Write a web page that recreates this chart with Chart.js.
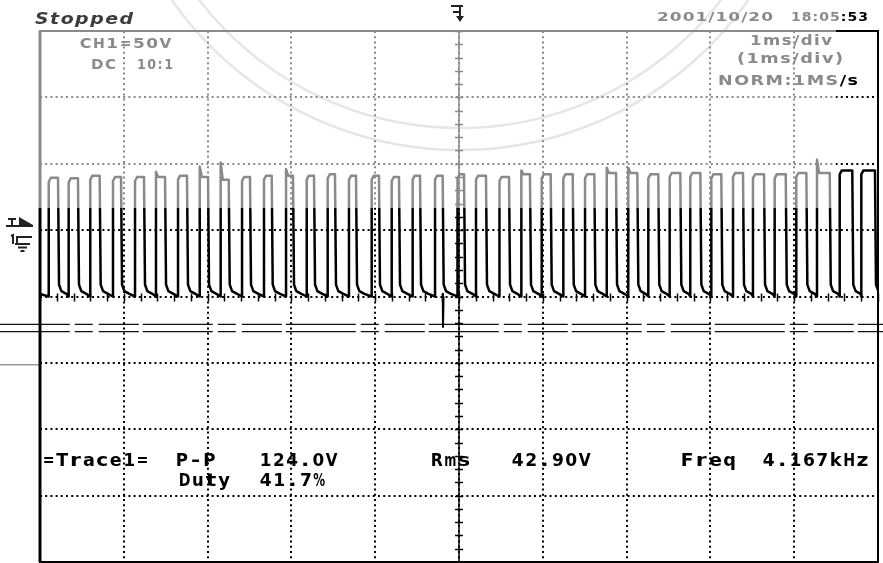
<!DOCTYPE html>
<html>
<head>
<meta charset="utf-8">
<script src="https://cdn.jsdelivr.net/npm/chart.js@4"></script>
<style>
  html, body { margin: 0; padding: 0; background: #fff; }
  canvas { display: block; }
</style>
</head>
<body>
<canvas id="scope" width="883" height="563"></canvas>
<script>
// pulse edges, in ms (1 ms/div, 10 div)
const riseMs = [0.104, 0.342, 0.600, 0.871, 1.134, 1.384, 1.647, 1.906, 2.156, 2.411,
  2.673, 2.936, 3.183, 3.433, 3.687, 3.958, 4.197, 4.447, 4.714, 4.982,
  5.203, 5.483, 5.744, 5.987, 6.245, 6.504, 6.763, 7.020, 7.259, 7.514,
  7.760, 8.011, 8.270, 8.508, 8.767, 9.025, 9.272, 9.543, 9.801];
const fallMs = [0.215, 0.453, 0.712, 0.967, 1.241, 1.492, 1.754, 2.005, 2.252, 2.506,
  2.765, 3.019, 3.270, 3.520, 3.771, 4.045, 4.284, 4.535, 4.805, 5.060,
  5.322, 5.597, 5.847, 6.094, 6.357, 6.615, 6.874, 7.128, 7.378, 7.641,
  7.880, 8.130, 8.389, 8.640, 8.899, 9.145, 9.424, 9.693, 9.964];
// flat top level and leading-edge corner of each pulse, volts (50 V/div)
const highV = [89.5, 89, 91, 90, 90, 90, 91, 90, 88, 90,
  91, 91, 91, 92, 91, 91, 90, 91, 91, 92,
  91, 90, 92, 92, 92, 92, 93, 93, 92, 93,
  93, 92, 93, 92, 92, 93, 93, 95, 95];
const edgeV = [86, 86, 88, 87, 87, 94, 88, 98, 101, 87,
  88, 96, 88, 89, 88, 88, 87, 88, 88, 89,
  88, 87, 95, 89, 89, 89, 97, 97, 89, 90,
  90, 89, 90, 89, 89, 90, 103, 92, 92];
// knee after each falling edge (ms after the edge, volts)
const kneeMs = [0.012, 0.04, 0.1];
const kneeV = [9, 4, 2];
// undershoot glitch near 4.8 ms
const glitchMs = [4.806, 4.809, 4.816];
const glitchV = [2, -23, 0];
// stray scan lines crossing the sheet (ms span, volts)
const scanSpanMs = [-0.48, 10.06];
const scanV = [-21, -26.5];
const stubSpanMs = [-0.48, 0];
const stubV = -51.5;

const statusText = 'Stopped';
const dateText = ['2001/10/20', '18:05:53'];
const chText = ['CH1=50V', 'DC', '10:1'];
const timeText = ['1ms/div', '(1ms/div)', 'NORM:1MS/s'];
const readout = ['=Trace1=', 'P-P', '124.0V', 'Duty', '41.7%', 'Rms', '42.90V', 'Freq', '4.167kHz'];

const GREY = '#8a8a8a';
const canvas = document.getElementById('scope');
const ctx = canvas.getContext('2d');

// the scan left the upper band faded to grey
const band = document.createElement('canvas');
band.width = 883; band.height = 563;
const b = band.getContext('2d');
b.fillStyle = '#000'; b.fillRect(0, 0, 883, 563);
b.fillStyle = GREY; b.fillRect(0, 0, 836, 208);
const ink = ctx.createPattern(band, 'no-repeat');

const trace = [{ x: 0, y: 2 }];
riseMs.forEach((r, i) => {
  trace.push({ x: r, y: 0 }, { x: r, y: edgeV[i] }, { x: r + 0.025, y: highV[i] }, { x: fallMs[i], y: highV[i] });
  kneeMs.forEach((k, j) => trace.push({ x: fallMs[i] + k, y: kneeV[j] }));
});

const glitch = glitchMs.map((t, i) => ({ x: t, y: glitchV[i] }));
const scanSets = scanV.map(v => ({
  data: scanSpanMs.map(t => ({ x: t, y: v })),
  borderColor: '#111', borderWidth: 1.2, borderDash: [70, 5, 18, 6, 40, 4],
  clip: false
}));
scanSets.push({
  data: stubSpanMs.map(t => ({ x: t, y: stubV })),
  borderColor: '#999', borderWidth: 1.5, clip: false
});

function inkAt(x, y) {
  return (x < 836 && y < 208) ? GREY : '#000';
}

// proportional text stretched to the span it covers on the screen
function spread(c, s, x, y, w, gap, colour) {
  const chars = [...s];
  const ws = chars.map(ch => c.measureText(ch).width);
  const sum = ws.reduce((a, v) => a + v, 0);
  const sx = (w - gap * (chars.length - 1)) / sum;
  let cx = x;
  chars.forEach((ch, i) => {
    c.fillStyle = colour || inkAt(cx, y);
    c.save();
    c.translate(cx, y);
    c.scale(sx, 1);
    c.fillText(ch, 0, 0);
    c.restore();
    cx += ws[i] * sx + gap;
  });
}

// bitmap-style fixed pitch cells
function mono(c, s, x, y, pitch, widen) {
  [...s].forEach((ch, i) => {
    const gw = c.measureText(ch).width;
    const sx = Math.min(widen, (pitch - 1.5) / gw);
    const left = x + i * pitch + (pitch - gw * sx) / 2;
    c.fillStyle = inkAt(left, y);
    c.save();
    c.translate(left, y);
    c.scale(sx, 1);
    c.fillText(ch, 0, 0);
    c.restore();
  });
}

const screen = {
  id: 'screen',
  beforeDraw(chart) {
    const c = chart.ctx;
    c.save();
    c.fillStyle = '#fff';
    c.fillRect(0, 0, chart.width, chart.height);
    // faint watermark seal behind the screen
    c.strokeStyle = '#e6e6e6';
    c.lineWidth = 2.5;
    [352, 330].forEach(r => { c.beginPath(); c.arc(460, -202, r, 0.15 * Math.PI, 0.85 * Math.PI); c.stroke(); });
    c.restore();
  },
  afterDraw(chart) {
    const c = chart.ctx;
    const a = chart.chartArea;
    const xs = chart.scales.x, ys = chart.scales.y;
    c.save();
    c.strokeStyle = ink;
    c.fillStyle = ink;

    // frame
    c.lineWidth = 2;
    c.strokeRect(a.left, a.top, a.right - a.left, a.bottom - a.top);
    c.lineWidth = 3;
    c.beginPath(); c.moveTo(a.left, a.top); c.lineTo(a.left, a.bottom); c.stroke();

    // centre cross with minor ticks
    const cx = xs.getPixelForValue(5), cy = ys.getPixelForValue(0);
    c.lineWidth = 1.5;
    c.beginPath(); c.moveTo(cx, a.top); c.lineTo(cx, a.bottom); c.stroke();
    for (let v = -200; v <= 200; v += 10) {
      const y = Math.round(ys.getPixelForValue(v)) + 0.5;
      c.beginPath(); c.moveTo(cx - 4, y); c.lineTo(cx + 4, y); c.stroke();
    }
    for (let t = 0; t <= 10; t += 0.2) {
      const x = Math.round(xs.getPixelForValue(t)) + 0.5;
      c.beginPath(); c.moveTo(x, cy - 3); c.lineTo(x, cy + 5); c.stroke();
    }

    // text
    c.textBaseline = 'alphabetic';
    c.font = 'italic bold 15px "DejaVu Sans"';
    spread(c, statusText, 35, 24, 98, 1.5, '#3c3c3c');
    c.font = 'bold 13px "DejaVu Sans"';
    spread(c, dateText[0], 657, 21, 116, 1);
    spread(c, dateText[1], 791, 21, 77, 1);
    c.font = 'bold 14px "DejaVu Sans"';
    mono(c, chText[0], 79, 48, 13.3, 1.25);
    spread(c, chText[1], 91, 69, 25, 1.5);
    spread(c, chText[2], 137, 69, 36, 1.5);
    spread(c, timeText[0], 750, 45, 82, 1.5);
    spread(c, timeText[1], 737, 63, 106, 1.5);
    spread(c, timeText[2], 718, 85, 140, 1.5);
    c.font = 'bold 17px "DejaVu Sans"';
    const pos = [[42, 466, 13.4], [175, 466, 13.7], [259, 466, 13.2], [178, 486, 13.2], [259, 486, 13.4],
      [430, 466, 13.6], [511, 466, 13.4], [680, 466, 14.2], [762, 466, 13.4]];
    readout.forEach((s, i) => mono(c, s, pos[i][0], pos[i][1], pos[i][2], 1.3));

    // trigger level and ground markers at the left
    c.fillStyle = '#222';
    c.strokeStyle = '#222';
    c.lineWidth = 2;
    c.beginPath(); c.moveTo(8, 219); c.lineTo(16, 219); c.moveTo(12, 219); c.lineTo(12, 225); c.stroke();
    c.beginPath(); c.moveTo(19, 217); c.lineTo(33, 225); c.lineTo(19, 225); c.closePath(); c.fill();
    c.beginPath(); c.moveTo(6, 226); c.lineTo(33, 226); c.stroke();
    c.beginPath(); c.moveTo(11, 236); c.lineTo(13, 235); c.lineTo(13, 244); c.stroke();
    c.beginPath(); c.moveTo(16, 237); c.lineTo(32, 237); c.moveTo(17, 237); c.lineTo(17, 244);
    c.moveTo(15, 244); c.lineTo(30, 244); c.moveTo(18, 247.5); c.lineTo(27, 247.5);
    c.moveTo(20.5, 251); c.lineTo(24.5, 251); c.stroke();

    // trigger position marker at the top
    c.beginPath(); c.moveTo(451, 6); c.lineTo(463, 6); c.moveTo(460, 6); c.lineTo(460, 17);
    c.moveTo(453, 12); c.lineTo(459, 12); c.stroke();
    c.beginPath(); c.moveTo(456, 16); c.lineTo(464, 16); c.lineTo(460, 22); c.closePath(); c.fill();
    c.restore();
  }
};

new Chart(ctx, {
  type: 'line',
  data: {
    datasets: [
      { data: trace, borderColor: ink, borderWidth: 2.5 },
      { data: glitch, borderColor: '#000', borderWidth: 2 },
      ...scanSets
    ]
  },
  options: {
    responsive: false,
    animation: false,
    events: [],
    layout: { padding: { left: 40, right: 5, top: 31, bottom: 1 } },
    elements: { point: { radius: 0 }, line: { tension: 0, borderJoinStyle: 'round' } },
    plugins: { legend: { display: false }, tooltip: { enabled: false } },
    scales: {
      x: {
        type: 'linear', min: 0, max: 10,
        ticks: { display: false, stepSize: 1 },
        grid: {
          drawTicks: false, lineWidth: 2,
          color: c => (c.tick.value <= 0 || c.tick.value >= 10) ? 'rgba(0,0,0,0)' : ink
        },
        border: { display: false, dash: [2, 3.2] }
      },
      y: {
        type: 'linear', min: -200, max: 200,
        ticks: { display: false, stepSize: 50 },
        grid: {
          drawTicks: false, lineWidth: 2,
          color: c => (Math.abs(c.tick.value) >= 200 || c.tick.value % 50 !== 0) ? 'rgba(0,0,0,0)' : ink
        },
        border: { display: false, dash: [2, 3.2] }
      }
    }
  },
  plugins: [screen]
});
</script>
</body>
</html>
